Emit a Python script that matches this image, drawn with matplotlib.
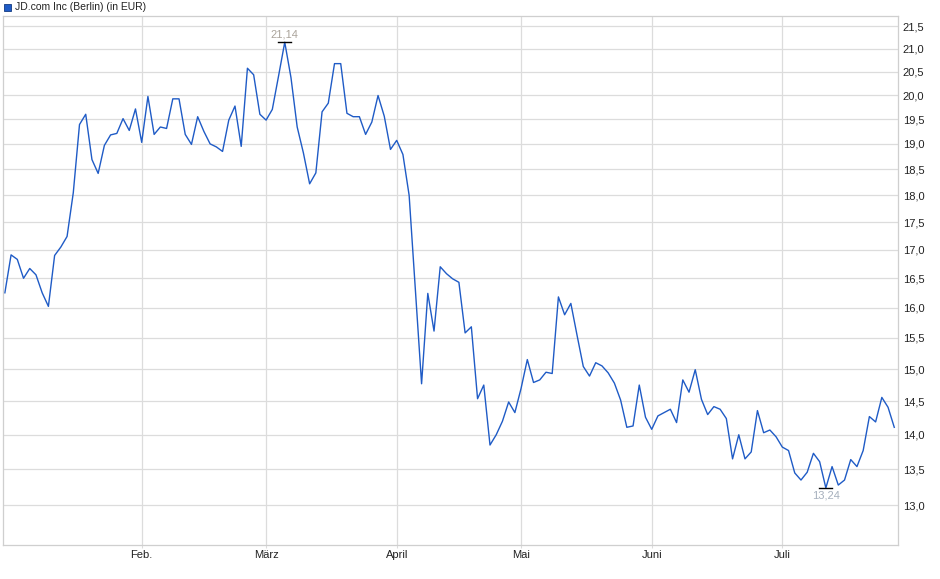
import numpy as np
import pandas as pd
import matplotlib
matplotlib.use("Agg")
import matplotlib.pyplot as plt
from matplotlib.ticker import FixedLocator, NullLocator, FixedFormatter
from matplotlib.patches import Rectangle

plt.rcParams['font.family'] = ['Liberation Sans', 'DejaVu Sans']

# trading days (Berlin) 2025, Jan 2 - Jul 25
holidays = ['2025-04-18', '2025-04-21', '2025-05-01']
dates = pd.bdate_range('2025-01-02', '2025-07-25')
dates = dates[~dates.isin(pd.to_datetime(holidays))]

prices = [
    16.25, 16.91, 16.83, 16.50, 16.67, 16.56, 16.25, 16.02, 16.90, 17.05,
    17.24, 18.05, 19.39, 19.60, 18.69, 18.42, 18.97, 19.18, 19.21, 19.51,
    19.27, 19.71, 19.03, 19.97, 19.19, 19.34, 19.31, 19.92, 19.92, 19.19,
    18.99, 19.55, 19.25, 19.00, 18.94, 18.85, 19.48, 19.77, 18.95, 20.57,
    20.43, 19.60, 19.48, 19.70, 20.40, 21.14, 20.37, 19.34, 18.82, 18.22,
    18.43, 19.65, 19.83, 20.67, 20.67, 19.62, 19.55, 19.55, 19.19, 19.44,
    19.99, 19.56, 18.89, 19.07, 18.79, 18.00, 16.30, 14.77, 16.24, 15.61,
    16.70, 16.58, 16.49, 16.43, 15.58, 15.68, 14.54, 14.75, 13.85, 14.00,
    14.20, 14.49, 14.33, 14.70, 15.15, 14.79, 14.83, 14.95, 14.93, 16.18,
    15.88, 16.07, 15.54, 15.04, 14.89, 15.10, 15.05, 14.94, 14.78, 14.52,
    14.11, 14.13, 14.75, 14.26, 14.08, 14.28, 14.33, 14.38, 14.18, 14.83,
    14.64, 14.99, 14.53, 14.30, 14.42, 14.38, 14.24, 13.65, 14.00, 13.65,
    13.75, 14.36, 14.03, 14.07, 13.97, 13.82, 13.77, 13.45, 13.35, 13.46,
    13.73, 13.61, 13.24, 13.54, 13.28, 13.35, 13.64, 13.54, 13.77, 14.27,
    14.19, 14.56, 14.41, 14.11,
]

month_names = ['Feb.', 'März', 'April', 'Mai', 'Juni', 'Juli']
y_ticks = [13.0, 13.5, 14.0, 14.5, 15.0, 15.5, 16.0, 16.5, 17.0, 17.5,
           18.0, 18.5, 19.0, 19.5, 20.0, 20.5, 21.0, 21.5]

blue = '#1f5bc6'
grid_col = '#dcdcdc'

x = np.arange(len(prices))
month_starts = [i for i in range(1, len(dates)) if dates[i].month != dates[i - 1].month]

fig = plt.figure(figsize=(9.4, 5.79), dpi=100)
ax = fig.add_axes([3 / 940, 1 - 545 / 579, 895 / 940, 529 / 579])

ax.plot(x, prices, color=blue, lw=1.0)

ax.set_yscale('log')
ax.set_ylim(12.47, 21.73)
ax.set_xlim(-0.3, 143.6)

ax.yaxis.set_major_locator(FixedLocator(y_ticks))
ax.yaxis.set_minor_locator(NullLocator())
ax.yaxis.set_major_formatter(FixedFormatter([f'{v:.1f}'.replace('.', ',') for v in y_ticks]))
ax.yaxis.tick_right()
ax.tick_params(axis='y', length=0, pad=3.5, labelsize=8, labelcolor='#222222')

ax.set_xticks(month_starts)
ax.set_xticklabels(month_names)
ax.tick_params(axis='x', length=2, color=grid_col, pad=1.5, labelsize=8, labelcolor='#222222')

ax.grid(True, color=grid_col, lw=0.9)
ax.set_axisbelow(True)
for s in ax.spines.values():
    s.set_color('#cfcfcf')
    s.set_linewidth(0.9)

# max / min markers
imax = int(np.argmax(prices))
imin = int(np.argmin(prices))
ax.plot([imax - 1.05, imax + 1.05], [prices[imax]] * 2, color='black', lw=1.0)
ax.plot([imin - 1.05, imin + 1.05], [prices[imin]] * 2, color='black', lw=1.0)
ax.annotate(f'{prices[imax]:.2f}'.replace('.', ','), (imax, prices[imax]),
            xytext=(0, 2), textcoords='offset points', ha='center', va='bottom',
            fontsize=8, color='#aaa39a')
ax.annotate(f'{prices[imin]:.2f}'.replace('.', ','), (imin, prices[imin]),
            xytext=(0, -2), textcoords='offset points', ha='center', va='top',
            fontsize=8, color='#a6b0bd')

# legend box
fig.patches.append(Rectangle((4 / 940, 1 - 11 / 579), 7 / 940, 7 / 579,
                             transform=fig.transFigure, facecolor=blue,
                             edgecolor='#123a80', lw=0.6))
fig.text(15 / 940, 1 - 7.5 / 579, 'JD.com Inc (Berlin) (in EUR)', fontsize=7.5,
         va='center', ha='left', color='#222222')

fig.savefig('out.png', dpi=100)
